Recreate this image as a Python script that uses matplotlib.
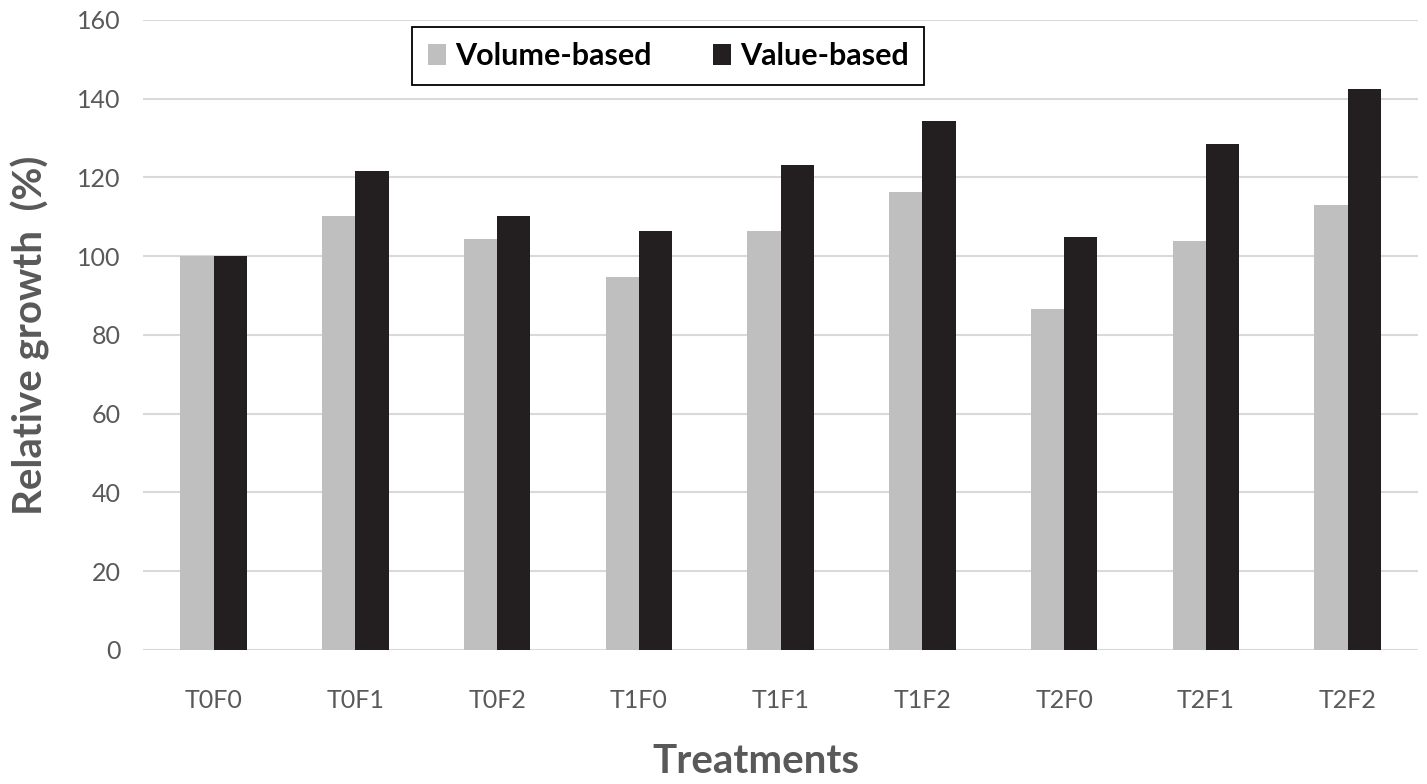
import numpy as np
import matplotlib.pyplot as plt

treatments = ["T0F0", "T0F1", "T0F2", "T1F0", "T1F1", "T1F2", "T2F0", "T2F1", "T2F2"]
volume_based = [100, 110.2, 104.3, 94.7, 106.3, 116.2, 86.5, 103.8, 112.9]
value_based = [100, 121.6, 110.2, 106.3, 123.1, 134.3, 104.8, 128.4, 142.4]

plt.rcParams['font.family'] = ['Lato', 'DejaVu Sans']

fig = plt.figure(figsize=(14.27, 7.84), dpi=100)
ax = fig.add_axes([0.100, 0.171, 0.894, 0.8035])

x = np.arange(len(treatments))
w = 0.235
ax.bar(x - w/2, volume_based, w, color='#bfbfbf', label='Volume-based', zorder=3)
ax.bar(x + w/2, value_based, w, color='#231f20', label='Value-based', zorder=3)

ax.set_xlim(-0.5, len(treatments) - 0.5)
ax.set_ylim(0, 160)
ax.set_yticks(np.arange(0, 161, 20))
ax.set_xticks(x)
ax.set_xticklabels(treatments)
ax.grid(axis='y', color='#d9d9d9', lw=1.5, zorder=0)
for s in ax.spines.values():
    s.set_visible(False)
ax.tick_params(axis='both', length=0, labelsize=18, colors='#595959')
ax.tick_params(axis='x', pad=28)
ax.tick_params(axis='y', pad=16)

ax.set_ylabel('Relative growth  (%)', fontsize=29, fontweight='bold', color='#595959', labelpad=19)
ax.set_xlabel('Treatments', fontsize=29, fontweight='bold', color='#595959')
ax.xaxis.set_label_coords(0.481, -0.148)

leg = ax.legend(loc='center', bbox_to_anchor=(0.412, 0.943), ncol=2, fancybox=False,
                edgecolor='black', framealpha=1, fontsize=22, handlelength=0.6,
                handleheight=0.7, handletextpad=0.3, columnspacing=2.0,
                borderpad=0.5, borderaxespad=0)
leg.get_frame().set_linewidth(1.3)
for t in leg.get_texts():
    t.set_fontweight('bold')

fig.savefig('out.png', dpi=100)
